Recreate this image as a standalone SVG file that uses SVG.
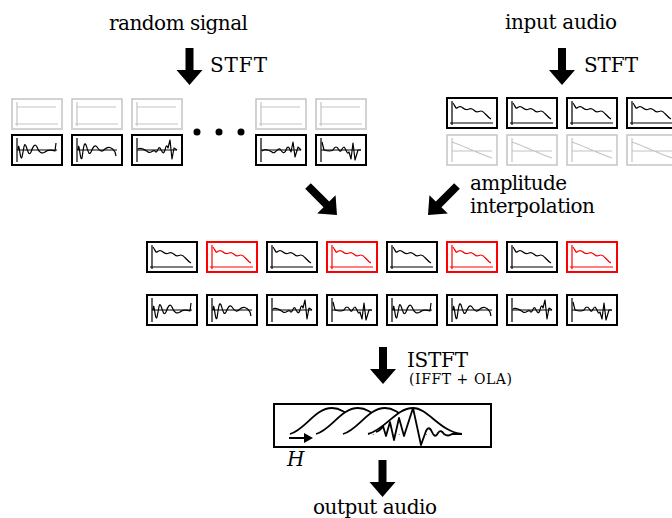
<svg xmlns="http://www.w3.org/2000/svg" xmlns:xlink="http://www.w3.org/1999/xlink" width="672" height="518" viewBox="0 0 672 518">
<style>
.t{font-family:"DejaVu Serif","Liberation Serif","Noto Serif",serif;font-size:20px;fill:#000}
.s{font-family:"DejaVu Serif","Liberation Serif","Noto Serif",serif;font-size:14px;fill:#000}
.fr{fill:#fff;stroke:currentColor;stroke-width:2}
.frg{fill:#fff;stroke:currentColor;stroke-width:1.5}
.ln{fill:none;stroke:currentColor;stroke-width:1.2;stroke-linejoin:round}
.blk{color:#000}
.red{color:#f00}
.gry{color:#c4c4c4}
.arr{fill:#000}
.win{fill:#fff;stroke:#000;stroke-width:1.8}
</style>
<defs>
<g id="specAx"><path class="ln" d="M5,3V27M3,25H46"/></g>
<g id="spec"><use xlink:href="#specAx"/><path class="ln" d="M6,5C8,8 9,11 10,10C12,8 14,8 16,10C18,12 20,12 22,11C24,10 26,11 28,13C30,15 32,13 34,13C37,13 39,18 44,21"/></g>
<g id="flat"><use xlink:href="#specAx"/><path class="ln" d="M5,8H44"/></g>
<g id="phase"><path class="ln" d="M5,3V27M5,16H45M5,7C15,10 25,16 45,23"/></g>
<g id="wAx"><path class="ln" d="M5,3V27M5,15H45"/></g>
<g id="wA"><use xlink:href="#wAx"/><path class="ln" d="M6,15C7,2 8,28 10,22C12,13 12,7 14,11C16,17 17,21 19,17C21,11 23,8 25,12C27,18 30,19 33,17C36,14 40,15 43,16L44,8"/></g>
<g id="wB"><use xlink:href="#wAx"/><path class="ln" d="M6,15C7,2 8,28 10,23C11,17 12,5 14,10C16,16 17,21 19,17C21,12 23,9 25,12C28,17 30,17 33,14C36,11 40,12 43,17L44,21"/></g>
<g id="wC"><use xlink:href="#wAx"/><path class="ln" d="M6,14C9,12 13,15 16,17C19,19 21,14 23,16C25,20 26,11 28,13C30,16 31,21 33,15C34,10 35,10 36,13L38,5L40,24L42,13L45,15"/></g>
<g id="wC2"><use xlink:href="#wAx"/><path class="ln" d="M6,16C9,13 13,15 16,17C19,20 21,13 24,14C26,17 28,20 30,15C32,10 33,12 35,17L37,7L39,22L42,12L45,15"/></g>
<g id="wD"><use xlink:href="#wAx"/><path class="ln" d="M6,7L8,15C11,16 14,17 17,15C19,11 21,11 23,15C25,19 26,12 28,12C30,13 31,21 33,17L35,24L37,8L39,25L42,15L45,15"/></g>
<rect id="box" width="50" height="30"/>
<path id="down" d="M-4,0H4V22H13L0,37L-13,22H-4Z"/>
<path id="diag" d="M0,-4H26V-13L41,0L26,13V4H0Z"/>
</defs>

<g id="labels">
<text class="t" x="109" y="30" textLength="139">random signal</text>
<text class="t" x="505" y="29" textLength="112">input audio</text>
<text class="t" x="210" y="72" textLength="57">STFT</text>
<text class="t" x="584" y="72" textLength="54">STFT</text>
<text class="t" x="470" y="190" textLength="97">amplitude</text>
<text class="t" x="470" y="213" textLength="125">interpolation</text>
<text class="t" x="407" y="367" textLength="61">ISTFT</text>
<text class="s" x="409" y="384" textLength="103">(IFFT + OLA)</text>
<text class="t" x="313" y="514" textLength="124">output audio</text>
</g>

<g id="connectors">
<use xlink:href="#down" class="arr" x="189.5" y="48"/>
<use xlink:href="#down" class="arr" x="562" y="48"/>
<use xlink:href="#down" class="arr" x="383" y="347"/>
<use xlink:href="#down" class="arr" x="382.5" y="460"/>
<use xlink:href="#diag" class="arr" transform="translate(308,186) rotate(45)"/>
<use xlink:href="#diag" class="arr" transform="translate(457,186) rotate(135)"/>
</g>

<g id="random-spectra" class="gry">
<g transform="translate(12,99)"><use xlink:href="#box" class="frg"/><use xlink:href="#flat"/></g>
<g transform="translate(72,99)"><use xlink:href="#box" class="frg"/><use xlink:href="#flat"/></g>
<g transform="translate(132,99)"><use xlink:href="#box" class="frg"/><use xlink:href="#flat"/></g>
<g transform="translate(256,99)"><use xlink:href="#box" class="frg"/><use xlink:href="#flat"/></g>
<g transform="translate(316,99)"><use xlink:href="#box" class="frg"/><use xlink:href="#flat"/></g>
</g>
<g id="random-phases" class="blk">
<g transform="translate(12,135)"><use xlink:href="#box" class="fr"/><use xlink:href="#wA"/></g>
<g transform="translate(72,135)"><use xlink:href="#box" class="fr"/><use xlink:href="#wB"/></g>
<g transform="translate(132,135)"><use xlink:href="#box" class="fr"/><use xlink:href="#wC"/></g>
<g transform="translate(256,135)"><use xlink:href="#box" class="fr"/><use xlink:href="#wC2"/></g>
<g transform="translate(316,135)"><use xlink:href="#box" class="fr"/><use xlink:href="#wD"/></g>
</g>
<g id="ellipsis">
<circle cx="197" cy="132" r="3.5"/>
<circle cx="219" cy="132" r="3.5"/>
<circle cx="241" cy="132" r="3.5"/>
</g>

<g id="input-spectra" class="blk">
<g transform="translate(447,98)"><use xlink:href="#box" class="fr"/><use xlink:href="#spec"/></g>
<g transform="translate(507,98)"><use xlink:href="#box" class="fr"/><use xlink:href="#spec"/></g>
<g transform="translate(567,98)"><use xlink:href="#box" class="fr"/><use xlink:href="#spec"/></g>
<g transform="translate(627,98)"><use xlink:href="#box" class="fr"/><use xlink:href="#spec"/></g>
</g>
<g id="input-phases" class="gry">
<g transform="translate(447,135)"><use xlink:href="#box" class="frg"/><use xlink:href="#phase"/></g>
<g transform="translate(507,135)"><use xlink:href="#box" class="frg"/><use xlink:href="#phase"/></g>
<g transform="translate(567,135)"><use xlink:href="#box" class="frg"/><use xlink:href="#phase"/></g>
<g transform="translate(627,135)"><use xlink:href="#box" class="frg"/><use xlink:href="#phase"/></g>
</g>

<g id="interp-spectra">
<g class="blk" transform="translate(147,242)"><use xlink:href="#box" class="fr"/><use xlink:href="#spec"/></g>
<g class="red" transform="translate(207,242)"><use xlink:href="#box" class="fr"/><use xlink:href="#spec"/></g>
<g class="blk" transform="translate(267,242)"><use xlink:href="#box" class="fr"/><use xlink:href="#spec"/></g>
<g class="red" transform="translate(327,242)"><use xlink:href="#box" class="fr"/><use xlink:href="#spec"/></g>
<g class="blk" transform="translate(387,242)"><use xlink:href="#box" class="fr"/><use xlink:href="#spec"/></g>
<g class="red" transform="translate(447,242)"><use xlink:href="#box" class="fr"/><use xlink:href="#spec"/></g>
<g class="blk" transform="translate(507,242)"><use xlink:href="#box" class="fr"/><use xlink:href="#spec"/></g>
<g class="red" transform="translate(567,242)"><use xlink:href="#box" class="fr"/><use xlink:href="#spec"/></g>
</g>
<g id="interp-phases" class="blk">
<g transform="translate(147,295)"><use xlink:href="#box" class="fr"/><use xlink:href="#wA"/></g>
<g transform="translate(207,295)"><use xlink:href="#box" class="fr"/><use xlink:href="#wB"/></g>
<g transform="translate(267,295)"><use xlink:href="#box" class="fr"/><use xlink:href="#wC"/></g>
<g transform="translate(327,295)"><use xlink:href="#box" class="fr"/><use xlink:href="#wD"/></g>
<g transform="translate(387,295)"><use xlink:href="#box" class="fr"/><use xlink:href="#wA"/></g>
<g transform="translate(447,295)"><use xlink:href="#box" class="fr"/><use xlink:href="#wB"/></g>
<g transform="translate(507,295)"><use xlink:href="#box" class="fr"/><use xlink:href="#wC"/></g>
<g transform="translate(567,295)"><use xlink:href="#box" class="fr"/><use xlink:href="#wD"/></g>
</g>

<g id="ola">
<rect x="274" y="404" width="217" height="43" fill="#fff" stroke="#000" stroke-width="2"/>
<path class="win" d="M290,434C305,430 315,408 332,408C345,408 352,420 374,434"/>
<path class="win" d="M316,434C331,430 341,408 358,408C371,408 378,420 400,434"/>
<path class="win" d="M343,434C358,430 368,408 385,408C398,408 405,420 427,434"/>
<path class="win" d="M368,434C385,430 396,408 413,408C428,408 440,432 462,434"/>
<path fill="none" stroke="#000" stroke-width="1.8" stroke-linejoin="round" d="M376,432Q380,431 383,426L386,436L390,422L394,440L399,418L404,436L413,408L421,445L426,431Q429,425 432,432Q435,439 438,433Q441,429 444,434Q448,437 452,434L462,434"/>
<path d="M289,438H305" stroke="#000" stroke-width="2"/>
<path d="M304,433L313,438L304,443Z"/>
<text x="287" y="466" style="font-family:'DejaVu Serif','Liberation Serif',serif;font-size:20px;font-style:italic">H</text>
</g>
</svg>
